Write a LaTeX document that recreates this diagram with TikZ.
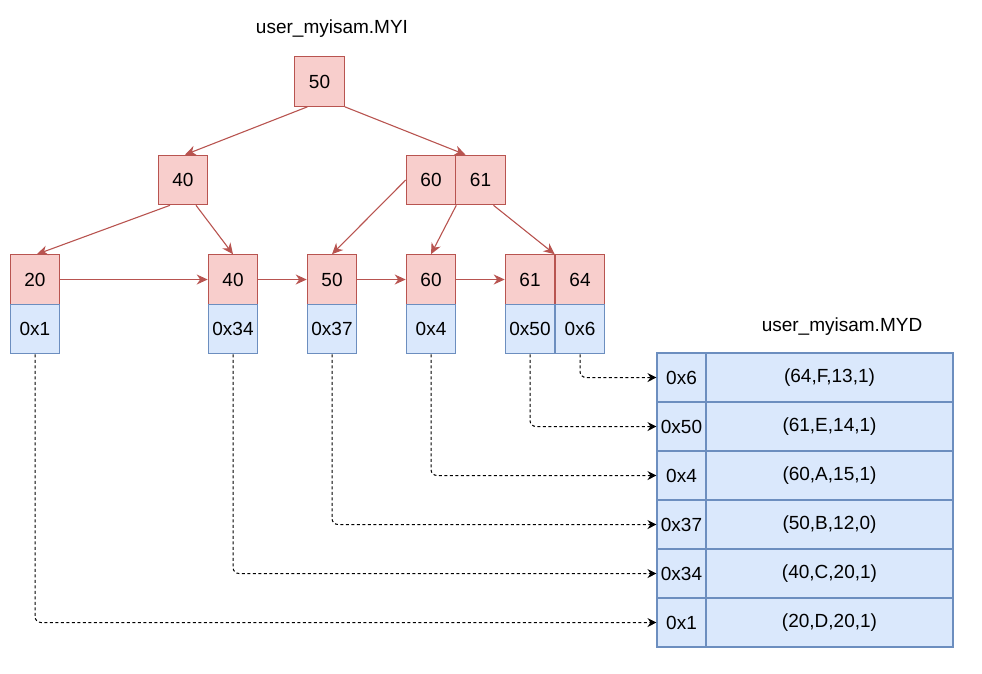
\documentclass[tikz,border=0pt]{standalone}
\usepackage{fontspec}
\setmainfont{Liberation Sans}
\usetikzlibrary{arrows.meta,calc}
\definecolor{redc}{HTML}{B85450}
\definecolor{pinkc}{HTML}{F8CECC}
\definecolor{bluec}{HTML}{6C8EBF}
\definecolor{lblue}{HTML}{DAE8FC}
\tikzset{
  keycell/.style={draw=redc, fill=pinkc, line width=1.1pt, minimum width=49.5pt, minimum height=49.5pt, inner sep=0pt},
  ptrcell/.style={draw=bluec, fill=lblue, line width=1.1pt, minimum width=49.5pt, minimum height=49.5pt, inner sep=0pt},
  rowcell/.style={draw=bluec, fill=lblue, line width=1.1pt, minimum width=247pt, minimum height=49pt, inner sep=0pt},
  addrcell/.style={draw=bluec, fill=lblue, line width=1.1pt, minimum width=49pt, minimum height=49pt, inner sep=0pt},
  treeedge/.style={draw=redc, line width=1.1pt, -{Stealth[length=11pt,width=10pt,inset=3.5pt]}},
  ptredge/.style={draw=black, line width=1pt, dash pattern=on 3pt off 2.5pt, rounded corners=6pt, -{Stealth[length=9pt,width=9pt,inset=3pt]}},
  titletext/.style={inner sep=0pt}
}
\begin{document}
\begin{tikzpicture}[x=1pt,y=-1pt, font=\fontsize{19}{23}\selectfont]
\useasboundingbox (0,0) rectangle (982,673);

\node[titletext] (t1) at (332,29) {user\_myisam.MYI};
\node[titletext] (t2) at (842,327) {user\_myisam.MYD};

% tree
\node[keycell] (root) at (319.5,81.5) {50};
\node[keycell] (n40) at (183,180) {40};
\node[keycell] (n60) at (431,180) {60};
\node[keycell] (n61) at (480.5,180) {61};

% leaves
\node[keycell] (a20) at (35,279.5) {20};
\node[keycell] (b40) at (233,279.5) {40};
\node[keycell] (c50) at (332,279.5) {50};
\node[keycell] (d60) at (431,279.5) {60};
\node[keycell] (e61) at (530,279.5) {61};
\node[keycell] (e64) at (580,279.5) {64};

\node[ptrcell] (p1) at (35,329) {0x1};
\node[ptrcell] (p34) at (233,329) {0x34};
\node[ptrcell] (p37) at (332,329) {0x37};
\node[ptrcell] (p4) at (431,329) {0x4};
\node[ptrcell] (p50) at (530,329) {0x50};
\node[ptrcell] (p6) at (580,329) {0x6};

% data file
\node[addrcell] (m6) at (681.5,377.5) {0x6};
\node[addrcell] (m50) at (681.5,426.5) {0x50};
\node[addrcell] (m4) at (681.5,475.5) {0x4};
\node[addrcell] (m37) at (681.5,524.5) {0x37};
\node[addrcell] (m34) at (681.5,573.5) {0x34};
\node[addrcell] (m1) at (681.5,622.5) {0x1};
\node[rowcell] (r6) at (829.5,377.5) {(64,F,13,1)};
\node[rowcell] (r50) at (829.5,426.5) {(61,E,14,1)};
\node[rowcell] (r4) at (829.5,475.5) {(60,A,15,1)};
\node[rowcell] (r37) at (829.5,524.5) {(50,B,12,0)};
\node[rowcell] (r34) at (829.5,573.5) {(40,C,20,1)};
\node[rowcell] (r1) at (829.5,622.5) {(20,D,20,1)};

% tree edges
\draw[treeedge] ([xshift=-12pt]root.south) -- ([xshift=2pt]n40.north);
\draw[treeedge] (root.south east) -- ([xshift=-15pt]n61.north);
\draw[treeedge] ([xshift=-13pt]n40.south) -- ([xshift=2pt]a20.north);
\draw[treeedge] ([xshift=13pt]n40.south) -- (b40.north);
\draw[treeedge] (n60.west) -- (c50.north);
\draw[treeedge] (n60.south east) -- (d60.north);
\draw[treeedge] ([xshift=13pt]n61.south) -- (e64.north west);

\draw[treeedge] (a20.east) -- (b40.west);
\draw[treeedge] (b40.east) -- (c50.west);
\draw[treeedge] (c50.east) -- (d60.west);
\draw[treeedge] (d60.east) -- (e61.west);

% pointer edges
\draw[ptredge] (p6.south) |- (m6.west);
\draw[ptredge] (p50.south) |- (m50.west);
\draw[ptredge] (p4.south) |- (m4.west);
\draw[ptredge] (p37.south) |- (m37.west);
\draw[ptredge] (p34.south) |- (m34.west);
\draw[ptredge] (p1.south) |- (m1.west);
\end{tikzpicture}
\end{document}
